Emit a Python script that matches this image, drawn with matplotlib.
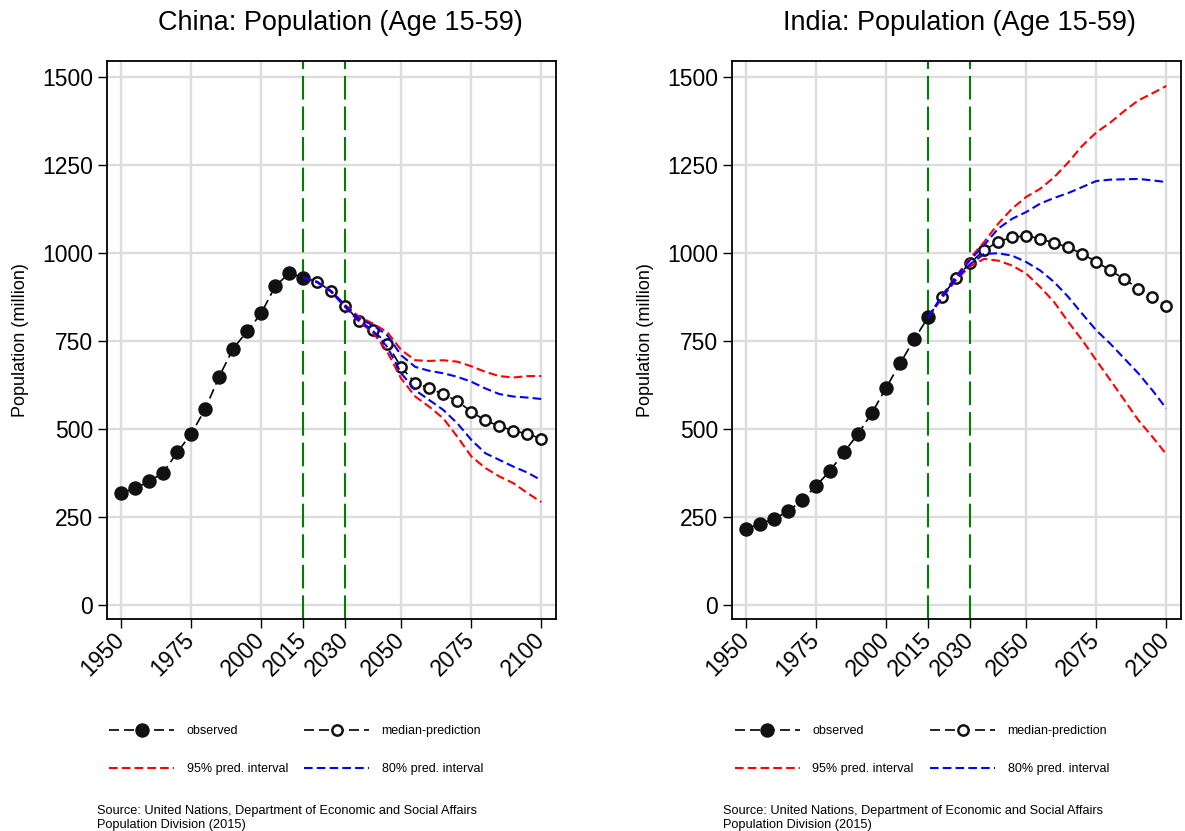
import matplotlib
matplotlib.use("Agg")
import matplotlib.pyplot as plt
from matplotlib.lines import Line2D

plt.rcParams['font.family'] = ['Liberation Sans', 'DejaVu Sans']
plt.rcParams['lines.scale_dashes'] = False

# ---------------- data ----------------
obs_years = [1950, 1955, 1960, 1965, 1970, 1975, 1980, 1985, 1990, 1995, 2000, 2005, 2010, 2015]
pred_years = [2015, 2020, 2025, 2030, 2035, 2040, 2045, 2050, 2055, 2060, 2065, 2070,
              2075, 2080, 2085, 2090, 2095, 2100]

china_obs = [318, 331, 351, 375, 433, 485, 556, 648, 728, 777, 828, 905, 942, 930]
china_median = [930, 918, 891, 849, 807, 780, 741, 675, 631, 615, 599, 579, 549, 524, 508, 495, 486, 472]
china_u95 = [930, 918, 892, 852, 818, 799, 775, 724, 695, 693, 695, 691, 678, 662, 650, 646, 650, 650]
china_l95 = [930, 916, 889, 846, 804, 773, 719, 643, 592, 563, 530, 478, 422, 389, 365, 346, 318, 292]
china_u80 = [930, 917, 891, 850, 813, 794, 766, 709, 676, 665, 658, 648, 634, 615, 599, 592, 589, 585]
china_l80 = [930, 917, 890, 847, 807, 778, 733, 658, 610, 582, 554, 516, 469, 431, 412, 393, 376, 354]

india_obs = [215, 231, 244, 266, 297, 338, 381, 434, 486, 546, 617, 686, 754, 817]
india_median = [817, 876, 929, 972, 1007, 1032, 1044, 1049, 1040, 1028, 1016, 997, 975, 950, 926, 898, 875, 849]
india_u95 = [817, 879, 934, 985, 1031, 1083, 1126, 1159, 1182, 1215, 1257, 1304, 1342, 1370, 1403, 1433, 1453, 1474]
india_l95 = [817, 873, 924, 962, 983, 978, 964, 941, 903, 860, 804, 752, 695, 639, 582, 525, 478, 428]
india_u80 = [817, 878, 932, 980, 1022, 1069, 1097, 1116, 1140, 1156, 1170, 1187, 1204, 1208, 1209, 1210, 1206, 1201]
india_l80 = [817, 874, 926, 968, 997, 999, 992, 974, 950, 917, 875, 827, 780, 742, 700, 658, 610, 558]

x_ticks = [1950, 1975, 2000, 2015, 2030, 2050, 2075, 2100]
y_ticks = [0, 250, 500, 750, 1000, 1250, 1500]
vlines = [2015, 2030]

titles = ["China: Population (Age 15-59)", "India: Population (Age 15-59)"]
ylabel = "Population (million)"
legend_labels = ["observed", "median-prediction", "95% pred. interval", "80% pred. interval"]
source = "Source: United Nations, Department of Economic and Social Affairs\nPopulation Division (2015)"

# ---------------- styles ----------------
OBS_DASH = (0, (7.2, 3.6))
PI_DASH = (0, (6.2, 3.0))
GREEN_DASH = (0, (17, 5))
GRID_C = '#dcdcdc'

fig = plt.figure(figsize=(11.85, 8.31), dpi=100)

panels = [
    (0.0903, china_obs, china_median, china_u95, china_l95, china_u80, china_l80, 0.287, 0.0920, 0.0819),
    (0.6177, india_obs, india_median, india_u95, india_l95, india_u80, india_l80, 0.810, 0.6202, 0.6101),
]

for i, (left, obs, med, u95, l95, u80, l80, tx, lgx, srcx) in enumerate(panels):
    ax = fig.add_axes([left, 0.2551, 0.3793, 0.6715])
    ax.set_xlim(1945, 2105.4)
    ax.set_ylim(-40, 1545)

    for x in x_ticks:
        if x not in vlines:
            ax.axvline(x, color=GRID_C, lw=1.7, zorder=0)
    for y in y_ticks:
        ax.axhline(y, color=GRID_C, lw=1.7, zorder=0)
    for x in vlines:
        ax.axvline(x, color='#008000', lw=1.5, linestyle=GREEN_DASH, zorder=1)

    ax.plot(obs_years, obs, color='black', lw=1.2, linestyle=OBS_DASH,
            marker='o', ms=9.4, mfc='#111111', mec='#111111', zorder=3)
    ax.plot(pred_years, med, color='black', lw=1.2, linestyle=OBS_DASH,
            marker='o', ms=7.4, mfc='white', mec='#111111', mew=1.8,
            markevery=list(range(1, len(pred_years))), zorder=3)
    ax.plot(pred_years, u95, color='#ff0000', lw=1.5, linestyle=PI_DASH, zorder=4)
    ax.plot(pred_years, l95, color='#ff0000', lw=1.5, linestyle=PI_DASH, zorder=4)
    ax.plot(pred_years, u80, color='#0000ff', lw=1.5, linestyle=PI_DASH, zorder=4)
    ax.plot(pred_years, l80, color='#0000ff', lw=1.5, linestyle=PI_DASH, zorder=4)

    ax.set_xticks(x_ticks)
    ax.set_xticklabels([str(x) for x in x_ticks], rotation=45, ha='right',
                       va='center', rotation_mode='anchor')
    ax.set_yticks(y_ticks)
    ax.tick_params(axis='both', labelsize=16.5, length=6.5, width=1.0, direction='out', color='black')
    ax.tick_params(axis='x', pad=6)
    ax.tick_params(axis='y', pad=3.5)
    for s in ax.spines.values():
        s.set_linewidth(1.3)
        s.set_color('black')
    ax.set_ylabel(ylabel, fontsize=13)
    ax.yaxis.set_label_coords(-0.174, 0.5)

    fig.text(tx, 0.9725, titles[i], fontsize=19.5, ha='center', va='center')

    h_obs = Line2D([], [], color='black', lw=1.2, linestyle=OBS_DASH, marker='o', ms=9.4,
                   mfc='#111111', mec='#111111')
    h_med = Line2D([], [], color='black', lw=1.2, linestyle=OBS_DASH, marker='o', ms=7.4,
                   mfc='white', mec='#111111', mew=1.8)
    h_95 = Line2D([], [], color='#ff0000', lw=1.5, linestyle=PI_DASH)
    h_80 = Line2D([], [], color='#0000ff', lw=1.5, linestyle=PI_DASH)
    leg = ax.legend([h_obs, h_95, h_med, h_80],
                    [legend_labels[0], legend_labels[2], legend_labels[1], legend_labels[3]],
                    ncol=2, loc='upper left', bbox_to_anchor=(lgx, 0.1271),
                    bbox_transform=fig.transFigure, frameon=False, fontsize=9,
                    handlelength=5.2, handletextpad=1.0, columnspacing=1.3,
                    labelspacing=2.07, borderpad=0, borderaxespad=0, numpoints=1)

    fig.text(srcx, 0.0155, source, fontsize=9.2, ha='left', va='center', linespacing=1.15)

fig.savefig("out.png", dpi=100)
